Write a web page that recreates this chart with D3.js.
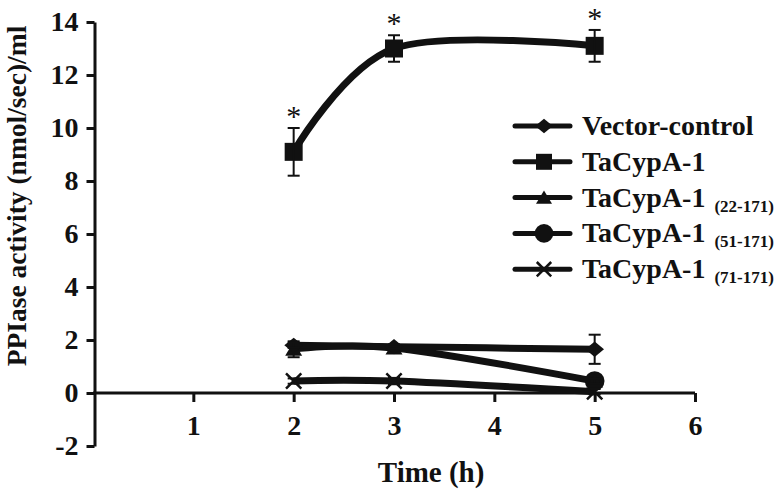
<!DOCTYPE html>
<html>
<head>
<meta charset="utf-8">
<script src="https://cdn.jsdelivr.net/npm/d3@7"></script>
<style>
  html, body { margin: 0; padding: 0; background: #fff; }
  svg { display: block; }
  text { font-family: "Liberation Serif", "Times New Roman", serif; fill: #111; }
</style>
</head>
<body>
<svg id="chart" width="777" height="491"></svg>
<script>
// ---- data ----
const times = [2, 3, 5];
const seriesNames = ["Vector-control", "TaCypA-1", "TaCypA-1", "TaCypA-1", "TaCypA-1"];
const seriesSubs = ["", "", "(22-171)", "(51-171)", "(71-171)"];
const seriesMarkers = ["diamond", "square", "triangle", "circle", "x"];
const vectorControl = [1.8, 1.75, 1.65];
const vectorControlErr = [0.1, 0.08, 0.55];
const taCypA1 = [9.1, 13.0, 13.1];
const taCypA1Err = [0.9, 0.5, 0.6];
const taCypA1_22 = [1.65, 1.7, 0.45];
const taCypA1_22Err = [0.3, 0.1, 0.1];
const taCypA1_51 = [null, null, 0.45];
const taCypA1_51Err = [0, 0, 0.1];
const taCypA1_71 = [0.45, 0.45, 0.05];
const taCypA1_71Err = [0.1, 0.12, 0.1];
const significant = [true, true, true]; // asterisks on TaCypA-1
const xTicks = [1, 2, 3, 4, 5, 6];
const yTicks = [-2, 0, 2, 4, 6, 8, 10, 12, 14];
const xTitle = "Time (h)";
const yTitle = "PPIase activity (nmol/sec)/ml";

const seriesValues = [vectorControl, taCypA1, taCypA1_22, taCypA1_51, taCypA1_71];
const seriesErrs = [vectorControlErr, taCypA1Err, taCypA1_22Err, taCypA1_51Err, taCypA1_71Err];

// ---- chart ----
const svg = d3.select("#chart");
const ink = "#111";
const x = d3.scaleLinear().domain([0, 6]).range([93, 695]);
const y = d3.scaleLinear().domain([-2, 14]).range([446, 22]);

// axes
const yAxis = d3.axisLeft(y).tickValues(yTicks).tickFormat(d => String(d)).tickSize(8).tickSizeOuter(0).tickPadding(8);
const gy = svg.append("g").attr("transform", `translate(${x(0) + 1.5},0)`).call(yAxis);
const xAxis = d3.axisBottom(x).tickValues(xTicks).tickFormat(d => String(d)).tickSize(9).tickSizeOuter(0).tickPadding(13);
const gx = svg.append("g").attr("transform", `translate(0,${y(0)})`).call(xAxis);
[gx, gy].forEach(g => {
  g.select(".domain").attr("stroke", ink).attr("stroke-width", 3);
  g.selectAll(".tick line").attr("stroke", ink).attr("stroke-width", 3);
  g.selectAll(".tick text").attr("fill", ink).style("font-size", "28px").style("font-weight", "bold")
    .style("font-family", '"Liberation Serif", "Times New Roman", serif');
});
gx.select(".domain").attr("d", `M${x(0)},0H${x(6)}`);

// axis titles
svg.append("text").attr("x", x(3.37)).attr("y", 482).attr("text-anchor", "middle")
  .style("font-size", "29px").style("font-weight", "bold").text(xTitle);
svg.append("text").attr("transform", `translate(26,${196}) rotate(-90)`).attr("text-anchor", "middle")
  .style("font-size", "27.5px").style("font-weight", "bold").text(yTitle);

// marker path generator (shapes drawn around 0,0)
function markerPath(type, s) {
  const p = d3.path();
  if (type === "diamond") { p.moveTo(-s*0.55, 0); p.lineTo(0, -s*0.45); p.lineTo(s*0.55, 0); p.lineTo(0, s*0.45); p.closePath(); }
  else if (type === "square") { p.rect(-s/2, -s/2, s, s); }
  else if (type === "triangle") { p.moveTo(-s*0.5, s*0.38); p.lineTo(0, -s*0.45); p.lineTo(s*0.5, s*0.38); p.closePath(); }
  else if (type === "circle") { p.arc(0, 0, s*0.58, 0, 2*Math.PI); }
  else if (type === "x") { const h = s*0.45; p.moveTo(-h, -h); p.lineTo(h, h); p.moveTo(h, -h); p.lineTo(-h, h); }
  return p.toString();
}
function drawMarker(g, type, s) {
  const path = g.append("path").attr("d", markerPath(type, s));
  if (type === "x") path.attr("fill", "none").attr("stroke", ink).attr("stroke-width", 2.5);
  else path.attr("fill", ink);
}

const line = d3.line().defined(d => d.v != null).x(d => x(d.t)).y(d => y(d.v)).curve(d3.curveCardinal.tension(0));
const drawOrder = [4, 3, 2, 0, 1];
drawOrder.forEach(i => {
  const pts = times.map((t, j) => ({ t, v: seriesValues[i][j], e: seriesErrs[i][j] }));
  svg.append("path").datum(pts).attr("d", line).attr("fill", "none")
    .attr("stroke", ink).attr("stroke-width", 7).attr("stroke-linejoin", "round");
  const valid = pts.filter(d => d.v != null);
  valid.forEach(d => {
    const g = svg.append("g").attr("transform", `translate(${x(d.t)},${y(d.v)})`);
    drawMarker(g, seriesMarkers[i], i === 1 ? 18 : 17);
  });
  // error bars
  const eg = svg.append("g").attr("stroke", ink).attr("stroke-width", 2);
  valid.forEach(d => {
    eg.append("line").attr("x1", x(d.t)).attr("x2", x(d.t)).attr("y1", y(d.v - d.e)).attr("y2", y(d.v + d.e));
    [d.v - d.e, d.v + d.e].forEach(v => eg.append("line")
      .attr("x1", x(d.t) - 6).attr("x2", x(d.t) + 6).attr("y1", y(v)).attr("y2", y(v)));
  });
});

// significance asterisks
times.forEach((t, j) => {
  if (!significant[j]) return;
  svg.append("text").attr("x", x(t)).attr("y", y(taCypA1[j] + taCypA1Err[j]) - 2)
    .attr("text-anchor", "middle").style("font-size", "30px").text("*");
});

// legend
const legend = svg.append("g").attr("transform", "translate(515,126)");
seriesNames.forEach((name, i) => {
  const g = legend.append("g").attr("transform", `translate(0,${i * 35.8})`);
  g.append("line").attr("x1", 0).attr("x2", 55).attr("y1", 0).attr("y2", 0)
    .attr("stroke", ink).attr("stroke-width", 5).attr("stroke-linecap", "round");
  const mg = g.append("g").attr("transform", "translate(29,0)");
  drawMarker(mg, seriesMarkers[i], 16);
  const t = g.append("text").attr("x", 67).attr("y", 9).style("font-size", "28px").style("font-weight", "bold");
  t.append("tspan").text(name);
  if (seriesSubs[i]) t.append("tspan").attr("dx", 9).attr("dy", 5).style("font-size", "17px").text(seriesSubs[i]);
});
</script>
</body>
</html>
